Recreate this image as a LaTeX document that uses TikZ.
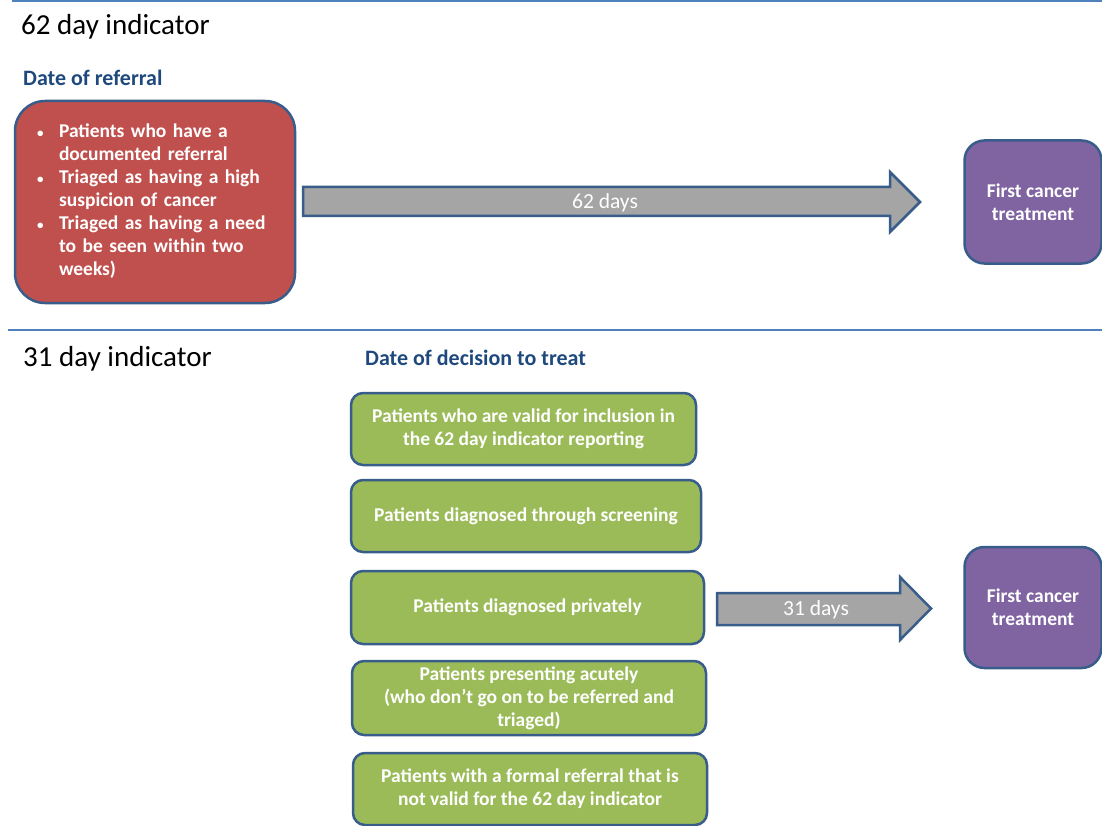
\documentclass[tikz,border=0pt]{standalone}
\usepackage{fontspec}
\setmainfont{Carlito}
\usetikzlibrary{positioning}
\definecolor{ruleblue}{HTML}{4F81BD}
\definecolor{edgeblue}{HTML}{385D8A}
\definecolor{headblue}{HTML}{1F497D}
\definecolor{redfill}{HTML}{C0504D}
\definecolor{purplefill}{HTML}{8064A2}
\definecolor{greenfill}{HTML}{9BBB59}
\definecolor{greyfill}{HTML}{A5A5A5}
\begin{document}
\begin{tikzpicture}[x=1pt, y=-1pt,
  every node/.style={font=\fontsize{19}{23}\selectfont},
  card/.style={draw=edgeblue, line width=2.5pt, rounded corners=#1, text=white,
    font=\fontsize{19.5}{23}\selectfont\bfseries, align=center, inner sep=0pt},
  card/.default=12pt,
  redcard/.style={card=30pt, fill=redfill},
  purplecard/.style={card=20pt, fill=purplefill, minimum width=137, minimum height=123},
  greencard/.style={card=12pt, fill=greenfill},
  blockarrow/.style={draw=edgeblue, line width=2.5pt, fill=greyfill, line join=miter},
  arrowlabel/.style={text=white, font=\fontsize{21.5}{23}\selectfont},
  rulerline/.style={draw=ruleblue, line width=1.3pt},
  section/.style={anchor=west, inner sep=0pt, font=\fontsize{29}{32}\selectfont},
  heading/.style={anchor=west, inner sep=0pt, text=headblue, font=\fontsize{22}{24}\selectfont\bfseries}]
  \useasboundingbox (0,0) rectangle (1102,826);

  % separators
  \draw[rulerline] (12,1) -- (1102,1);
  \draw[rulerline] (8,330) -- (1102,330);

  % 62 day indicator
  \node[section] (title62) at (21,27) {62 day indicator};
  \node[heading] (ref) at (23,78) {Date of referral};
  \node[redcard, minimum width=280, minimum height=202, text width=236, align=left] (referral) at (155,202)
    {\begin{tabular}{@{}p{22pt}@{}l@{}}
      {\fontsize{13}{13}\selectfont\textbullet} & Patients who have a\\
                  & documented referral\\
      {\fontsize{13}{13}\selectfont\textbullet} & Triaged as having a high\\
                  & suspicion of cancer\\
      {\fontsize{13}{13}\selectfont\textbullet} & Triaged as having a need\\
                  & to be seen within two\\
                  & weeks)
    \end{tabular}};
  \node[purplecard] (treat62) at (1033,202) {First cancer\\treatment};
  \draw[blockarrow] (303,187) -- (890,187) -- (890,172) -- (920,202) -- (890,232)
    -- (890,216) -- (303,216) -- cycle;
  \node[arrowlabel] (days62) at (605,203) {62 days};

  % 31 day indicator
  \node[section] (title31) at (23,359) {31 day indicator};
  \node[heading] (dtt) at (365,358) {Date of decision to treat};
  \node[greencard, minimum width=345, minimum height=72] (valid) at (523.5,429)
    {Patients who are valid for inclusion in\\the 62 day indicator reporting};
  \node[greencard, minimum width=350, minimum height=72] (screen) at (526,516)
    {Patients diagnosed through screening};
  \node[greencard, minimum width=353, minimum height=73] (private) at (527.5,607.5)
    {Patients diagnosed privately};
  \node[greencard, minimum width=354, minimum height=74] (acute) at (529,698)
    {Patients presenting acutely\\(who don’t go on to be referred and\\triaged)};
  \node[greencard, minimum width=354, minimum height=72] (formal) at (530,789)
    {Patients with a formal referral that is\\not valid for the 62 day indicator};
  \node[purplecard, minimum height=121] (treat31) at (1033,607.5) {First cancer\\treatment};
  \draw[blockarrow] (717,593) -- (900,593) -- (900,577) -- (931,608.5) -- (900,640)
    -- (900,625) -- (717,625) -- cycle;
  \node[arrowlabel] (days31) at (816,610) {31 days};
\end{tikzpicture}
\end{document}
